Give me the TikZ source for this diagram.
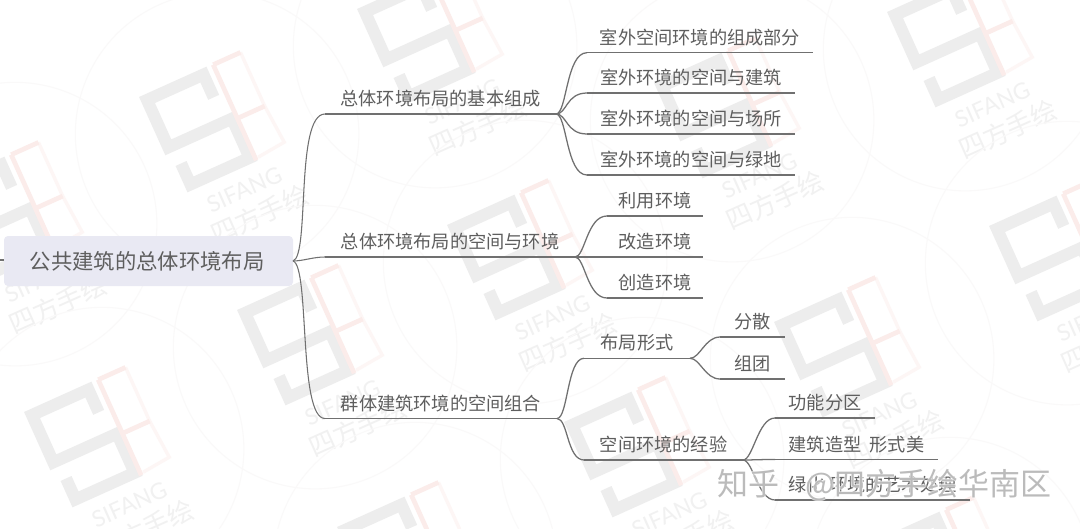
\documentclass[tikz,border=0pt]{standalone}
\usepackage{fontspec}
\setmainfont{Noto Sans CJK SC}
\newfontfamily\wmlatin{Lato}
\definecolor{ink}{HTML}{5E5E5E}
\definecolor{wire}{HTML}{707070}
\definecolor{rootfill}{HTML}{E9E9F3}
\definecolor{wmgray}{HTML}{EDEDED}
\definecolor{wmpink}{HTML}{FBECEA}
\definecolor{wmpale}{HTML}{FDF6F5}
\definecolor{wmtext}{HTML}{F1F1F1}
\definecolor{wmring}{HTML}{FAF9F9}
\definecolor{zhihu}{HTML}{BBBBBB}
\tikzset{
  lab/.style={inner sep=0pt,outer sep=0pt,minimum height=24pt,text=ink,font=\fontsize{13.65pt}{15pt}\selectfont,text height=13pt,text depth=1.5pt},
  rootbox/.style={rounded corners=3pt,fill=rootfill,inner sep=0pt,outer sep=0pt,minimum width=216.75pt,minimum height=37.5pt,text=ink,font=\fontsize{16pt}{18pt}\selectfont},
  wire/.style={draw=wire,line width=.95pt},
  thinwire/.style={draw=wire,line width=.8pt},
  credittext/.style={font=\fontsize{23.25pt}{25pt}\selectfont,inner sep=0pt,anchor=east},
}
% \lab name, x0, x1, line y, text: the node's bottom edge is its underline
\newcommand{\lab}[5]{%
  \node[lab,minimum width={(#3-#2)*0.75pt}] (#1) at ({(#2+#3)/2},{#4-16}) {#5};
  \draw[wire] (#1.south west) -- (#1.south east);}
\newcommand{\wmark}[3]{%
  \begin{scope}[shift={(#2,#3)},x={(0.6825pt,0.3075pt)},y={(0.3075pt,-0.6825pt)}]
    \draw[wmring,line width=.8pt] (50,60) circle[radius=142];
    \draw[wmpale,line width=2.5pt] (105,-5) -- (105,54) (105,54) -- (108,95) -- (78,98);
    \draw[wmgray,line width=9pt,line join=miter]
      (62,25) -- (62,0) -- (0,0) -- (0,52) -- (70,52) -- (70,95) -- (5,95) -- (5,72);
    \draw[wmpink,line width=3.5pt] (75,-5) -- (105,-5) (75,-5) -- (75,100) (75,54) -- (105,54);
    \node[text=wmtext,font=\wmlatin\fontsize{17pt}{20pt}\selectfont,rotate=24,inner sep=0pt] (#1s) at (52,122) {SIFANG};
    \node[text=wmtext,font=\fontsize{19.5pt}{21pt}\selectfont,rotate=24,inner sep=0pt] (#1z) at (56,151) {四方手绘};
  \end{scope}}
\begin{document}
\begin{tikzpicture}[x=0.75pt,y=-0.75pt]
\useasboundingbox (0,0) rectangle (1080,528);
\clip (0,0) rectangle (1080,528);
\fill[white] (0,0) rectangle (1080,528);
% watermarks
\wmark{wa}{147}{100}
\wmark{wb}{365}{12}
\wmark{wc}{662}{86}
\wmark{wd}{895}{15}
\wmark{we}{997}{229}
\wmark{wf}{455}{228}
\wmark{wg}{245}{313}
\wmark{wh}{-55}{190}
\wmark{wi}{32}{415}
\wmark{wj}{345}{530}
\wmark{wk}{572}{425}
\wmark{wl}{782}{325}
\wmark{wm}{880}{545}
% root
\node[rootbox] (root) at (148.5,261) {\hspace{-2pt}公共建筑的总体环境布局};
\coordinate (tick) at (0,260);
\draw[thinwire] (tick) -- (root.west |- tick);
% first level
\lab{b1}{325}{556}{114}{总体环境布局的基本组成}
\lab{b2}{325}{575}{257}{总体环境布局的空间与环境}
\lab{b3}{325}{557}{418.5}{群体建筑环境的空间组合}
\draw[thinwire] (root.east) .. controls +(17,-5) and +(-30,0) .. (b1.south west);
\draw[thinwire] (root.east) .. controls +(10,0) and +(-12,0) .. (b2.south west);
\draw[thinwire] (root.east) .. controls +(17,5) and +(-27,0) .. (b3.south west);
% group 1
\lab{a1}{587}{813}{52.7}{室外空间环境的组成部分}
\lab{a2}{587}{795}{93}{室外环境的空间与建筑}
\lab{a3}{587}{795}{134}{室外环境的空间与场所}
\lab{a4}{587}{795}{175}{室外环境的空间与绿地}
\foreach \n in {a1,a2,a3,a4}
  \draw[wire] (b1.south east) .. controls +(11,0) and +(-21,0) .. (\n.south west);
% group 2
\lab{c1}{607}{703}{216}{利用环境}
\lab{c2}{607}{703}{257}{改造环境}
\lab{c3}{607}{703}{298}{创造环境}
\foreach \n in {c1,c2,c3}
  \draw[wire] (b2.south east) .. controls +(10,0) and +(-20,0) .. (\n.south west);
% group 3
\lab{d1}{584}{690}{358.3}{布局形式}
\lab{d2}{584}{743}{460}{空间环境的经验}
\foreach \n in {d1,d2}
  \draw[wire] (b3.south east) .. controls +(11,0) and +(-17,0) .. (\n.south west);
\lab{e1}{720}{785}{337}{分散}
\lab{e2}{720}{785}{379}{组团}
\foreach \n in {e1,e2}
  \draw[wire] (d1.south east) .. controls +(10,0) and +(-15,0) .. (\n.south west);
\lab{f1}{775}{875}{418}{功能分区}
\lab{f2}{775}{938}{459.5}{建筑造型\hspace{.45em}形式美}
\lab{f3}{775}{970}{500}{绿化 环境的艺术处理}
\foreach \n in {f1,f2,f3}
  \draw[wire] (d2.south east) .. controls +(10,0) and +(-17,0) .. (\n.south west);
% credit overlay
\foreach \dx/\dy in {-1.2/0,1.2/0,0/-1.2,0/1.2}
  \node[text=white,text opacity=.55,credittext] at (1052+\dx,485+\dy) {知乎\hspace{.84em}@四方手绘华南区};
\node[text=zhihu,credittext] (credit) at (1052,485) {知乎\hspace{.84em}@四方手绘华南区};
\end{tikzpicture}
\end{document}
